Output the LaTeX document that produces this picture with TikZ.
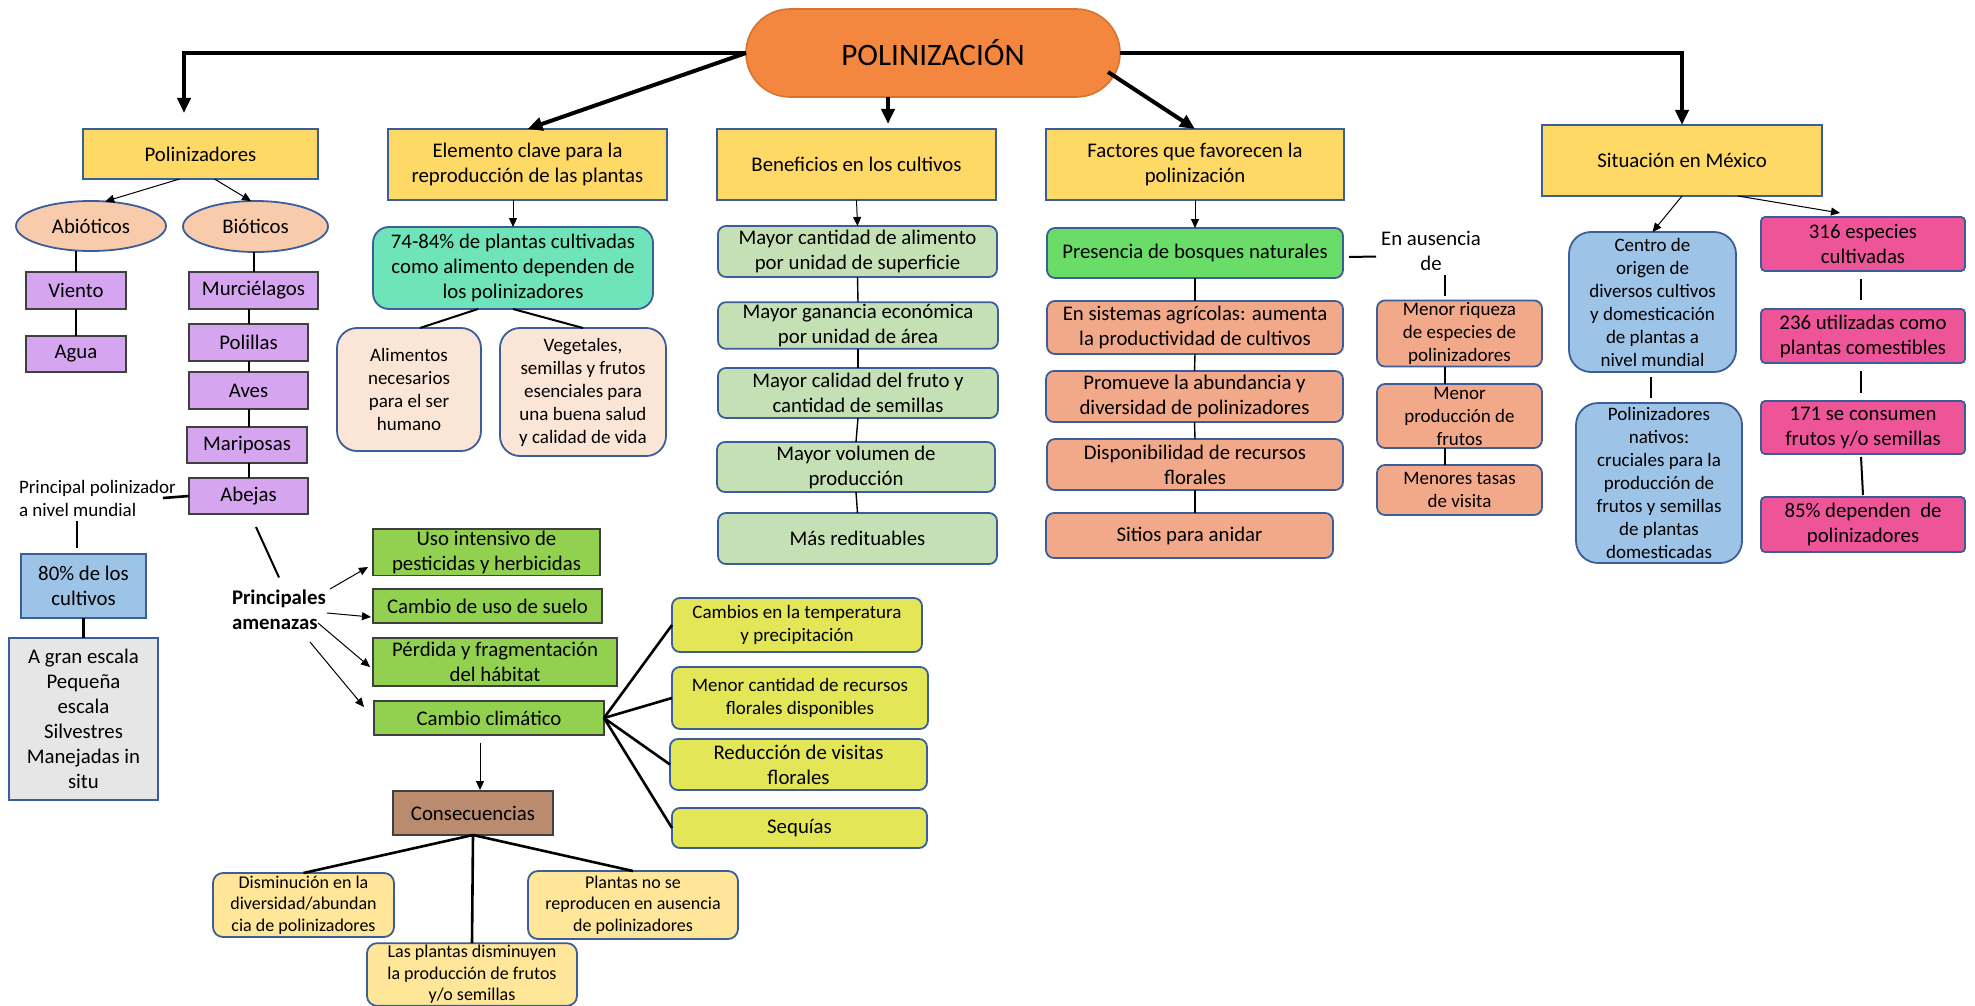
\documentclass[tikz,border=0pt]{standalone}
\usepackage{fontspec}
\setmainfont{Carlito}
\usetikzlibrary{arrows.meta,calc,shapes.geometric}
\definecolor{cBord}{HTML}{3B5E9A}
\definecolor{cDark}{HTML}{404040}
\definecolor{cOrng}{HTML}{F4873F}
\definecolor{cOrngB}{HTML}{D8732E}
\definecolor{cYlw}{HTML}{FFD966}
\definecolor{cPeach}{HTML}{F8CBAD}
\definecolor{cPurp}{HTML}{D5A6EF}
\definecolor{cLBlue}{HTML}{9DC3E6}
\definecolor{cLGray}{HTML}{E7E6E6}
\definecolor{cTeal}{HTML}{6FE3B9}
\definecolor{cCream}{HTML}{FBE5D6}
\definecolor{cLGreen}{HTML}{92D050}
\definecolor{cYGreen}{HTML}{E2E657}
\definecolor{cBrown}{HTML}{BA8B6E}
\definecolor{cLYlw}{HTML}{FFE699}
\definecolor{cSage}{HTML}{C5E0B4}
\definecolor{cBGreen}{HTML}{6ADC68}
\definecolor{cSalmon}{HTML}{F2A98A}
\definecolor{cPink}{HTML}{EE5599}
\newcommand\fA{\fontsize{10.4}{12.5}\selectfont}
\newcommand\fB{\fontsize{9.5}{11.5}\selectfont}
\newcommand\fC{\fontsize{9}{10.8}\selectfont}
\newcommand\fT{\fontsize{15.6}{18}\selectfont}
\newcommand\mybox[7]{\node[#2, minimum width={(#5-#3)*0.5pt}, minimum height={(#6-#4)*0.5pt}] (#1) at ({(#3+#5)/2},{(#4+#6)/2}) {#7};}
\tikzset{
 base/.style={align=center, inner sep=1pt, outer sep=0pt, font=\fA, line width=0.9pt, text=black},
 titlebox/.style={base, draw=cOrngB, fill=cOrng, rounded corners=21.9pt, font=\fT, line width=0.8pt},
 hdr/.style={base, draw=cBord, fill=cYlw},
 ell/.style={base, ellipse, draw=cBord, fill=cPeach},
 pbox/.style={base, draw=cDark, fill=cPurp},
 bluebox/.style={base, draw=cBord, fill=cLBlue},
 graybox/.style={base, draw=cBord, fill=cLGray},
 tealbox/.style={base, draw=cBord, fill=cTeal, rounded corners=8pt},
 creambox/.style={base, draw=cBord, fill=cCream, rounded corners=10pt, font=\fB},
 gbox/.style={base, draw=cDark, fill=cLGreen},
 ygbox/.style={base, draw=cBord, fill=cYGreen, rounded corners=4pt},
 brbox/.style={base, draw=cDark, fill=cBrown},
 lybox/.style={base, draw=cBord, fill=cLYlw, rounded corners=5pt, font=\fC},
 sgbox/.style={base, draw=cBord, fill=cSage, rounded corners=4pt},
 bgbox/.style={base, draw=cBord, fill=cBGreen, rounded corners=4pt},
 sabox/.style={base, draw=cBord, fill=cSalmon, rounded corners=4pt},
 sabox2/.style={sabox, font=\fB},
 cbbox/.style={base, draw=cBord, fill=cLBlue, rounded corners=11pt, font=\fB},
 pkbox/.style={base, draw=cBord, fill=cPink, rounded corners=2pt},
 thk/.style={line width=2pt, -{Triangle[length=7.5pt,width=6.5pt]}},
 thn/.style={line width=0.5pt, -{Triangle[length=4.5pt,width=4pt]}},
 ln/.style={line width=1pt},
 lnk/.style={line width=1.3pt},
 lnt/.style={line width=0.7pt},
}
\begin{document}
\begin{tikzpicture}[x=0.5pt, y=-0.5pt]
\fill[white] (0,0) rectangle (1975,1006);
\useasboundingbox (0,0) rectangle (1975,1006);

% title and headers
\mybox{pol}{titlebox}{746}{9}{1120}{97}{POLINIZACIÓN}
\mybox{pz}{hdr}{83}{129}{318}{179}{Polinizadores}
\mybox{ek}{hdr}{388}{129}{667}{200}{Elemento clave para la\\reproducción de las plantas}
\mybox{ben}{hdr}{717}{129}{996}{200}{Beneficios en los cultivos}
\mybox{fac}{hdr}{1046}{129}{1344}{200}{Factores que favorecen la\\polinización}
\mybox{mex}{hdr}{1542}{125}{1822}{196}{Situación en México}

% polinizadores column
\mybox{abio}{ell}{16}{201}{166}{251}{Abióticos}
\mybox{bio}{ell}{183}{201}{328}{252}{Bióticos}
\mybox{vie}{pbox}{26}{272}{126}{309}{Viento}
\mybox{agua}{pbox}{26}{336}{126}{372}{Agua}
\mybox{mur}{pbox}{189}{272}{318}{309}{Murciélagos}
\mybox{poli}{pbox}{189}{324}{308}{361}{Polillas}
\mybox{aves}{pbox}{189}{372}{308}{409}{Aves}
\mybox{mari}{pbox}{187}{427}{307}{463}{Mariposas}
\mybox{abe}{pbox}{189}{478}{308}{514}{Abejas}
\node[base, font=\fB, align=left, inner sep=0pt, anchor=west] (ppol) at (19,498) {Principal polinizador\\a nivel mundial};
\mybox{ochenta}{bluebox}{21}{554}{146}{618}{80\% de los\\cultivos}
\mybox{gris}{graybox}{9}{638}{158}{800}{A gran escala\\Pequeña\\escala\\Silvestres\\Manejadas in\\situ}

% amenazas
\node[base, font=\fA\bfseries, align=left, inner sep=0pt, anchor=west] (pa) at (232,609.5) {Principales\\amenazas};
\mybox{uso}{gbox}{373}{530}{600}{574}{Uso intensivo de\\pesticidas y herbicidas}
\mybox{cus}{gbox}{373}{589}{602}{623}{Cambio de uso de suelo}
\mybox{perd}{gbox}{373}{638}{617}{686}{Pérdida y fragmentación\\del hábitat}
\mybox{cc}{gbox}{374}{701}{604}{735}{Cambio climático}
\mybox{cons}{brbox}{393}{791}{553}{835}{Consecuencias}
\mybox{dism}{lybox}{213}{873}{394}{937}{Disminución en la\\diversidad/abundan\\cia de polinizadores}
\mybox{lasp}{lybox}{367}{946}{577}{1003}{Las plantas disminuyen\\la producción de frutos\\y/o semillas}
\mybox{pnr}{lybox}{528}{871}{738}{939}{Plantas no se\\reproducen en ausencia\\de polinizadores}
\mybox{temp}{ygbox,font=\fB}{672}{598}{922}{652}{Cambios en la temperatura\\y precipitación}
\mybox{mcr}{ygbox,font=\fB}{672}{667}{928}{729}{Menor cantidad de recursos\\florales disponibles}
\mybox{red}{ygbox}{670}{739}{927}{790}{Reducción de visitas\\florales}
\mybox{seq}{ygbox}{672}{808}{927}{848}{Sequías}

% elemento clave column
\mybox{p7484}{tealbox}{373}{227}{653}{309}{74-84\% de plantas cultivadas\\como alimento dependen de\\los polinizadores}
\mybox{alim}{creambox}{337}{328}{481}{451}{Alimentos\\necesarios\\para el ser\\humano}
\mybox{veg}{creambox}{500}{328}{666}{456}{Vegetales,\\semillas y frutos\\esenciales para\\una buena salud\\y calidad de vida}

% beneficios column
\mybox{mc1}{sgbox}{718}{226}{997}{277}{Mayor cantidad de alimento\\por unidad de superficie}
\mybox{mc2}{sgbox}{718}{303}{998}{348}{Mayor ganancia económica\\por unidad de área}
\mybox{mc3}{sgbox}{718}{368}{998}{418}{Mayor calidad del fruto y\\cantidad de semillas}
\mybox{mc4}{sgbox}{717}{442}{995}{492}{Mayor volumen de\\producción}
\mybox{mc5}{sgbox}{718}{513}{997}{564}{Más redituables}

% factores column
\mybox{pres}{bgbox}{1047}{228}{1343}{278}{Presencia de bosques naturales}
\mybox{fa1}{sabox}{1047}{301}{1343}{354}{En sistemas agrícolas: aumenta\\la productividad de cultivos}
\mybox{fa2}{sabox}{1046}{371}{1343}{422}{Promueve la abundancia y\\diversidad de polinizadores}
\mybox{fa3}{sabox}{1047}{439}{1343}{490}{Disponibilidad de recursos\\florales}
\mybox{fa4}{sabox}{1046}{513}{1333}{558}{Sitios para anidar}
\node[base, inner sep=0pt] (aus) at (1431,250.5) {En ausencia\\de};
\mybox{mr1}{sabox2}{1377}{301}{1542}{366}{Menor riqueza\\de especies de\\polinizadores}
\mybox{mr2}{sabox2}{1377}{384}{1542}{448}{Menor\\producción de\\frutos}
\mybox{mr3}{sabox2}{1377}{465}{1542}{515}{Menores tasas\\de visita}

% mexico column
\mybox{cen}{cbbox}{1569}{232}{1736}{372}{Centro de\\origen de\\diversos cultivos\\y domesticación\\de plantas a\\nivel mundial}
\mybox{nat}{cbbox}{1576}{403}{1742}{563}{Polinizadores\\nativos:\\cruciales para la\\producción de\\frutos y semillas\\de plantas\\domesticadas}
\mybox{pk1}{pkbox}{1761}{217}{1965}{271}{316 especies\\cultivadas}
\mybox{pk2}{pkbox}{1761}{309}{1965}{363}{236 utilizadas como\\plantas comestibles}
\mybox{pk3}{pkbox}{1761}{401}{1965}{454}{171 se consumen\\frutos y/o semillas}
\mybox{pk4}{pkbox}{1761}{497}{1965}{552}{85\% dependen\ \ de\\polinizadores}

% main connectors
\coordinate (pzin) at (184,113);
\draw[thk] (pol.west) -| (pzin);
\draw[thk] (pol.east) -| (mex.north);
\draw[thk] (pol.west) -- (ek.north);
\draw[thk] ($(pol.south)+(-45,0)$) -- ($(ben.north)+(31.5,-5)$);
\draw[thk] ($(pol.east)+(-12,19)$) -- (fac.north);

% polinizadores connectors
\draw[thn] ($(pz.south)+(-21,0)$) -- (abio.60);
\draw[thn] ($(pz.south)+(14,0)$) -- (bio.100);
\draw[ln] (vie.north |- abio.south) -- (vie.north);
\draw[ln] (vie.south) -- (agua.north);
\draw[ln] (mur.north |- bio.south) -- (mur.north);
\draw[ln] (poli.north |- mur.south) -- (poli.north);
\draw[ln] (poli.south) -- (aves.north);
\draw[ln] (aves.south) -- (mari.north -| aves.south);
\draw[ln] (mari.south -| abe.north) -- (abe.north);
\draw[lnk] (abe.west) -- ($(abe.west)+(-26,2)$);
\draw[lnk] ($(ochenta.north)+(-6.5,-33)$) -- ($(ochenta.north)+(-6.5,-6)$);
\draw[lnk] (ochenta.south) -- (gris.north);

% amenazas connectors
\draw[ln] ($(abe.south)+(7.5,13)$) -- ($(pa.west)+(47,-32)$);
\draw[thn] ($(pa.west)+(98,-20.5)$) -- ($(uso.west)+(-5,15)$);
\draw[thn] ($(pa.west)+(95,3.5)$) -- ($(cus.west)+(-2,11)$);
\draw[thn] ($(pa.west)+(86,13.5)$) -- ($(perd.west)+(-3,5)$);
\draw[thn] ($(pa.west)+(78,32.5)$) -- ($(cc.west)+(-10,-11)$);
\draw[thn] ($(cc.south)+(-9,8)$) -- ($(cons.north)+(7,-1)$);
\draw[lnk] (cons.south) -- (dism.north);
\draw[lnk] (cons.south) -- (lasp.north);
\draw[lnk] (cons.south) -- (pnr.north);
\draw[lnk] (cc.east) -- (temp.west);
\draw[lnk] (cc.east) -- (mcr.west);
\draw[lnk] (cc.east) -- (red.west);
\draw[lnk] (cc.east) -- (seq.west);

% elemento clave connectors
\draw[thn] (p7484.north |- ek.south) -- (p7484.north);
\draw[ln] ($(p7484.south)+(-35,0)$) -- ($(alim.north)+(11,0)$);
\draw[ln] (p7484.south) -- (veg.north);

% beneficios connectors
\draw[thn] (ben.south) -- (mc1.north);
\draw[lnt] (mc1.south) -- (mc2.north);
\draw[lnt] (mc2.south) -- (mc3.north);
\draw[lnt] (mc3.south) -- (mc4.north);
\draw[lnt] (mc4.south) -- (mc5.north);

% factores connectors
\draw[thn] (fac.south) -- (pres.north);
\draw[lnt] (pres.south) -- (fa1.north);
\draw[lnt] (fa1.south) -- (fa2.north);
\draw[lnt] (fa2.south) -- (fa3.north);
\draw[lnt] (fa3.south) -- (fa4.north -| fa3.south);
\draw[ln] ($(pres.east)+(6,4)$) -- ($(aus.west)+(-5,6)$);
\draw[ln] ($(mr1.north)+(-14.5,-25)$) -- ($(mr1.north)+(-14.5,-4)$);
\draw[lnt] ($(mr1.south)+(-14.5,0)$) -- ($(mr2.north)+(-14.5,0)$);
\draw[lnt] ($(mr2.south)+(-14.5,0)$) -- ($(mr3.north)+(-14.5,0)$);

% mexico connectors
\draw[thn] (mex.south) -- (cen.north);
\draw[thn] ($(mex.south)+(56,0)$) -- ($(pk1.north)+(-23,-4)$);
\draw[ln] ($(cen.south)+(-1.5,5)$) -- ($(nat.north)+(-8,-5)$);
\draw[ln] ($(pk1.south)+(-2,8)$) -- ($(pk2.north)+(-2,-9)$);
\draw[ln] ($(pk2.south)+(-2,8)$) -- ($(pk3.north)+(-2,-8)$);
\draw[ln] ($(pk3.south)+(-2,3)$) -- ($(pk4.north)+(0,-2)$);
\end{tikzpicture}
\end{document}
